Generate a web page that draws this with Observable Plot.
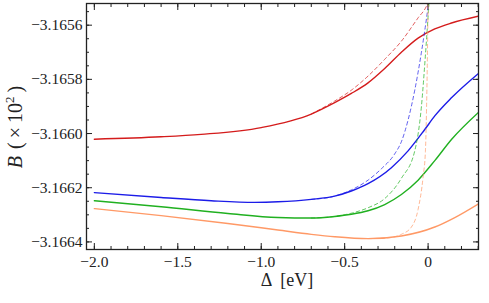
<!DOCTYPE html>
<html>
<head>
<meta charset="utf-8">
<script src="https://cdn.jsdelivr.net/npm/d3@7"></script>
<script src="https://cdn.jsdelivr.net/npm/@observablehq/plot@0.6"></script>
<style>
  html, body { margin: 0; padding: 0; background: #fff; }
  #chart { width: 489px; height: 303px; }
</style>
</head>
<body>
<div id="chart"></div>
<script>
// ---- data ----
const xMajor = [-2.0, -1.5, -1.0, -0.5, 0];
const yMajor = [-3.1664, -3.1662, -3.1660, -3.1658, -3.1656];

const redSolidX = [-2.0, -1.6, -1.36, -1.0, -0.70, -0.56, -0.46, -0.36, -0.26, -0.16, -0.06, 0.04, 0.14, 0.30];
const redSolidY = [-3.166021, -3.166012, -3.166003, -3.165978, -3.165928, -3.165886, -3.165852, -3.165813, -3.165760, -3.165700, -3.165648, -3.165614, -3.165592, -3.165567];
const redDashX = [-0.70, -0.56, -0.46, -0.36, -0.26, -0.16, -0.06, -0.01, 0.01];
const redDashY = [-3.165928, -3.16588, -3.165840, -3.165788, -3.165726, -3.165659, -3.165573, -3.16553, -3.16550];

const blueSolidX = [-2.0, -1.6, -1.3, -1.04, -0.90, -0.70, -0.56, -0.46, -0.36, -0.22, -0.12, -0.02, 0.04, 0.14, 0.30];
const blueSolidY = [-3.166218, -3.166236, -3.166248, -3.166254, -3.166252, -3.166243, -3.166231, -3.166212, -3.166185, -3.166126, -3.166064, -3.165985, -3.165935, -3.165868, -3.165779];
const blueDashX = [-0.70, -0.56, -0.46, -0.36, -0.28, -0.20, -0.16, -0.12, -0.08, -0.04, 0.0, 0.01];
const blueDashY = [-3.166243, -3.166231, -3.166208, -3.166172, -3.166130, -3.166075, -3.166030, -3.165950, -3.165840, -3.165700, -3.165530, -3.16548];

const greenSolidX = [-2.0, -1.6, -1.2, -0.90, -0.70, -0.56, -0.46, -0.36, -0.26, -0.16, -0.06, 0.04, 0.14, 0.30];
const greenSolidY = [-3.166248, -3.16627, -3.166295, -3.16631, -3.166312, -3.166306, -3.166298, -3.166285, -3.166262, -3.166225, -3.166172, -3.166100, -3.166022, -3.165923];
const greenDashX = [-0.70, -0.56, -0.46, -0.36, -0.26, -0.16, -0.08, -0.04, -0.016, 0.002, 0.01];
const greenDashY = [-3.166312, -3.166306, -3.166294, -3.166274, -3.166240, -3.166165, -3.166064, -3.16590, -3.165710, -3.16555, -3.16548];

const orangeSolidX = [-2.0, -1.6, -1.2, -0.90, -0.70, -0.56, -0.36, -0.16, 0.04, 0.16, 0.30];
const orangeSolidY = [-3.166277, -3.166303, -3.166332, -3.166356, -3.166372, -3.166381, -3.166388, -3.166378, -3.166345, -3.166310, -3.16626];
const orangeDashX = [-0.36, -0.24, -0.16, -0.10, -0.06, -0.03, -0.016, -0.007, 0.0, 0.003];
const orangeDashY = [-3.166388, -3.166385, -3.166372, -3.166345, -3.166280, -3.166160, -3.166064, -3.165830, -3.165540, -3.16545];

const series = [
  {name: "s1", color: "#d41c1c", solid: [redSolidX, redSolidY], dash: [redDashX, redDashY]},
  {name: "s2", color: "#1c1ce8", solid: [blueSolidX, blueSolidY], dash: [blueDashX, blueDashY]},
  {name: "s3", color: "#20b020", solid: [greenSolidX, greenSolidY], dash: [greenDashX, greenDashY]},
  {name: "s4", color: "#ff9966", solid: [orangeSolidX, orangeSolidY], dash: [orangeDashX, orangeDashY]}
];

const toPts = ([xs, ys], name) => xs.map((x, i) => ({x, y: ys[i], name}));
const solidData = series.flatMap(s => toPts(s.solid, s.name));
const dashData = series.flatMap(s => toPts(s.dash, s.name));

const xMinor = d3.range(-20, 4).map(i => i / 10);
const yMinor = d3.range(-63329, -63309).map(i => i / 20000).filter(v => v > -3.166428 && v < -3.16552);

const font = "'Liberation Serif', 'Times New Roman', 'DejaVu Serif', serif";
const fmtX = d => d === 0 ? "0" : d3.format(".1f")(d);
const fmtY = d => d3.format(".4f")(d);

const chart = Plot.plot({
  width: 489,
  height: 303,
  marginLeft: 86,
  marginRight: 11,
  marginTop: 3,
  marginBottom: 54,
  style: {fontFamily: font, fontSize: "15.5px", color: "#222", background: "#fff"},
  x: {domain: [-2.047, 0.302]},
  y: {domain: [-3.166428, -3.16552]},
  color: {type: "ordinal", domain: series.map(s => s.name), range: series.map(s => s.color)},
  marks: [
    // labels
    Plot.axisX({anchor: "bottom", ticks: xMajor, tickFormat: fmtX, tickSize: 0, tickPadding: 6, label: null, fontFamily: font, fontSize: 15.5}),
    Plot.axisY({anchor: "left", ticks: yMajor, tickFormat: fmtY, tickSize: 0, tickPadding: 4, label: null, fontFamily: font, fontSize: 15.5}),
    // inward ticks, mirrored
    Plot.axisX({anchor: "bottom", ticks: xMajor, tickSize: -6, text: null, label: null}),
    Plot.axisX({anchor: "top", ticks: xMajor, tickSize: -6, text: null, label: null}),
    Plot.axisX({anchor: "bottom", ticks: xMinor, tickSize: -3, text: null, label: null}),
    Plot.axisX({anchor: "top", ticks: xMinor, tickSize: -3, text: null, label: null}),
    Plot.axisY({anchor: "left", ticks: yMajor, tickSize: -6, text: null, label: null}),
    Plot.axisY({anchor: "right", ticks: yMajor, tickSize: -6, text: null, label: null}),
    Plot.axisY({anchor: "left", ticks: yMinor, tickSize: -3, text: null, label: null}),
    Plot.axisY({anchor: "right", ticks: yMinor, tickSize: -3, text: null, label: null}),
    Plot.line(solidData, {x: "x", y: "y", z: "name", stroke: "name", strokeWidth: 1.4, curve: "monotone-x", clip: true}),
    Plot.line(dashData, {x: "x", y: "y", z: "name", stroke: "name", strokeWidth: 1, strokeOpacity: 0.7, strokeDasharray: "3.5,3", curve: "monotone-x", clip: true}),
    Plot.frame({stroke: "#222", strokeWidth: 1.3})
  ]
});

// axis titles as real SVG text
const svg = d3.select(chart);
const yl = svg.append("text")
  .attr("transform", "translate(22,127) rotate(-90)")
  .attr("text-anchor", "middle")
  .style("font-family", font)
  .attr("font-size", 20)
  .attr("fill", "#222");
yl.append("tspan").attr("font-style", "italic").text("B");
yl.append("tspan").attr("dx", 7).text("(\u2009\u00d7\u200910");
yl.append("tspan").attr("font-size", 13).attr("dy", -8).text("2");
yl.append("tspan").attr("font-size", 20).attr("dy", 8).text("\u2009)");

svg.append("text")
  .attr("x", 287).attr("y", 286)
  .attr("text-anchor", "middle")
  .style("font-family", font)
  .attr("font-size", 18)
  .attr("fill", "#222")
  .style("white-space", "pre")
  .text("\u0394  [eV]");

document.getElementById("chart").appendChild(chart);
</script>
</body>
</html>
